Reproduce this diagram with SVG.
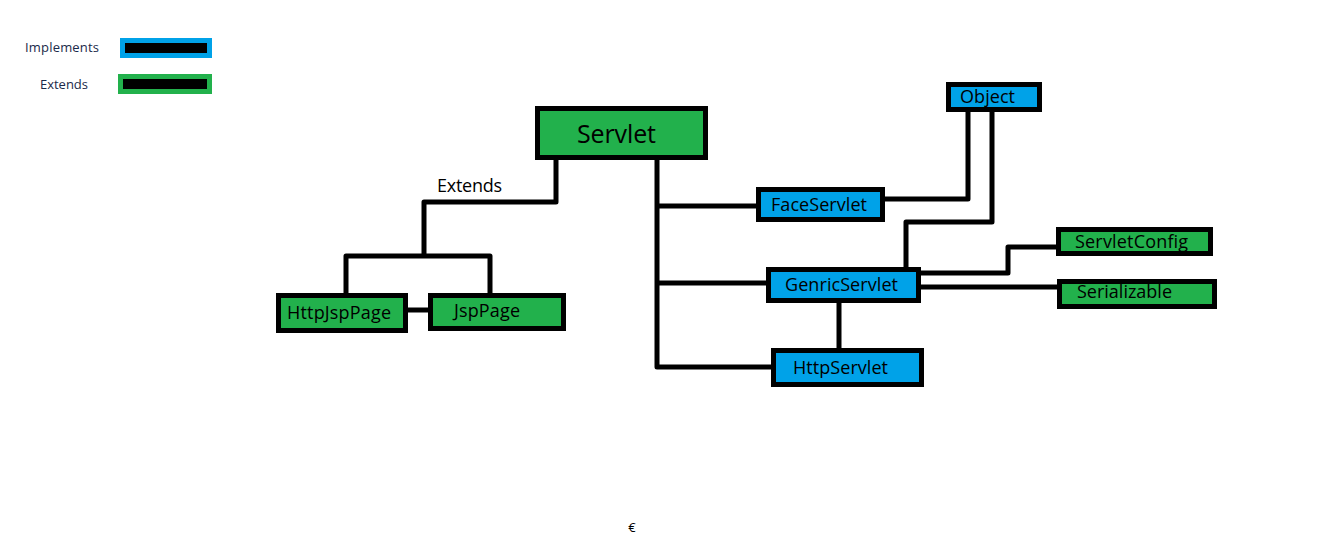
<svg xmlns="http://www.w3.org/2000/svg" width="1338" height="546" viewBox="0 0 1338 546">
  <style>
    .blue { fill: #00a2e8; stroke: #000; stroke-width: 5; }
    .green { fill: #22b14c; stroke: #000; stroke-width: 5; }
    .lbl { font-family: "Open Sans", "Noto Sans", sans-serif; font-size: 18px; fill: #000; dominant-baseline: central; }
    .key { font-size: 13px; fill: #1a2a4a; }
    .wire { fill: none; stroke: #000; stroke-width: 5; stroke-linejoin: round; }
  </style>
  <rect x="0" y="0" width="1338" height="546" fill="#fff"/>

  <!-- legend -->
  <g id="legend">
    <text class="lbl key" x="25" y="47" textLength="74">Implements</text>
    <rect x="120" y="38" width="92" height="20" fill="#00a2e8"/>
    <rect x="125" y="43" width="82" height="10" fill="#000"/>
    <text class="lbl key" x="40" y="84" textLength="48">Extends</text>
    <rect x="118" y="74" width="94" height="20" fill="#22b14c"/>
    <rect x="123" y="79" width="84" height="10" fill="#000"/>
  </g>

  <!-- connectors -->
  <g id="connectors">
    <polyline class="wire" points="556,160 556,202 424,202 424,256"/>
    <polyline class="wire" points="346,297 346,256 490,256 490,294"/>
    <line class="wire" x1="404" y1="310" x2="430" y2="310"/>
    <polyline class="wire" points="657,160 657,367 772,367"/>
    <line class="wire" x1="657" y1="206" x2="757" y2="206"/>
    <line class="wire" x1="657" y1="283" x2="767" y2="283"/>
    <polyline class="wire" points="885,199 968,199 968,112"/>
    <polyline class="wire" points="992,112 992,222 906,222 906,268"/>
    <polyline class="wire" points="921,273 1008,273 1008,247 1057,247"/>
    <line class="wire" x1="921" y1="287" x2="1058" y2="287"/>
    <line class="wire" x1="839" y1="302" x2="839" y2="348"/>
  </g>

  <g id="servlet">
    <rect class="green" x="537.5" y="108.5" width="168" height="49"/>
    <text class="lbl" x="577" y="133" textLength="79" style="font-size:25px">Servlet</text>
  </g>
  <text class="lbl" x="437" y="185" textLength="65" style="font-size:18px">Extends</text>

  <g id="httpjsppage">
    <rect class="green" x="278.5" y="295.5" width="127" height="35"/>
    <text class="lbl" x="287" y="312" textLength="104">HttpJspPage</text>
  </g>
  <g id="jsppage">
    <rect class="green" x="430.5" y="295.5" width="133" height="33"/>
    <text class="lbl" x="454" y="310" textLength="66">JspPage</text>
  </g>

  <g id="faceservlet">
    <rect class="blue" x="758.5" y="189.5" width="124" height="30"/>
    <text class="lbl" x="771" y="204" textLength="96">FaceServlet</text>
  </g>
  <g id="object">
    <rect class="blue" x="948.5" y="84.5" width="91" height="25"/>
    <text class="lbl" x="960" y="96" textLength="55">Object</text>
  </g>
  <g id="genericservlet">
    <rect class="blue" x="768.5" y="269.5" width="150" height="31"/>
    <text class="lbl" x="785" y="284" textLength="113">GenricServlet</text>
  </g>
  <g id="httpservlet">
    <rect class="blue" x="773.5" y="350.5" width="148" height="34"/>
    <text class="lbl" x="793" y="367" textLength="95">HttpServlet</text>
  </g>
  <g id="servletconfig">
    <rect class="green" x="1058.5" y="229.5" width="152" height="24"/>
    <text class="lbl" x="1075" y="241" textLength="113">ServletConfig</text>
  </g>
  <g id="serializable">
    <rect class="green" x="1059.5" y="281.5" width="155" height="25"/>
    <text class="lbl" x="1077" y="291" textLength="95">Serializable</text>
  </g>

  <text class="lbl" x="632" y="527" text-anchor="middle" style="font-size:13px">€</text>
</svg>
